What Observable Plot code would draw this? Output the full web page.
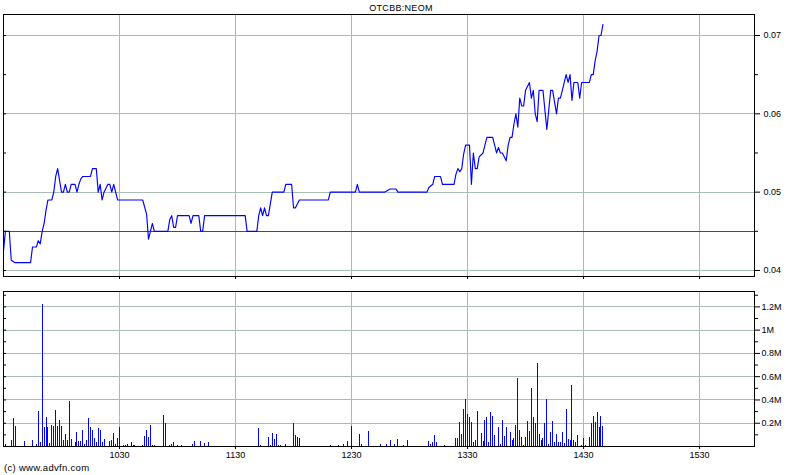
<!DOCTYPE html>
<html><head><meta charset="utf-8">
<script src="https://cdn.jsdelivr.net/npm/d3@7"></script>
<script src="https://cdn.jsdelivr.net/npm/@observablehq/plot@0.6"></script>
<style>
html,body{margin:0;padding:0;background:#fff;}
body{width:800px;height:475px;overflow:hidden;position:relative;font-family:"Liberation Sans",Arial,sans-serif;color:#000;}
#title{position:absolute;left:0;width:802px;top:3px;text-align:center;font-size:9px;letter-spacing:0.3px;}
#top{position:absolute;left:0;top:0;}
#bot{position:absolute;left:0;top:280px;}
#cap{position:absolute;left:4px;top:462px;font-size:9.5px;letter-spacing:0.3px;}
</style></head><body>
<div id="top"></div><div id="bot"></div>
<div id="title">OTCBB:NEOM</div>
<div id="cap">(c) www.advfn.com</div>
<script>
// time in minutes after 09:30
const hourTicks = [60, 120, 180, 240, 300, 360];
const hourLabels = ["1030", "1130", "1230", "1330", "1430", "1530"];
const prevClose = 0.045;
const priceTicks = [0.04, 0.05, 0.06, 0.07];
const priceMinor = [0.045, 0.055, 0.065];
const volTicks = [200, 400, 600, 800, 1000, 1200];
const volLabels = ["0.2M", "0.4M", "0.6M", "0.8M", "1M", "1.2M"];
const volMinor = [100, 300, 500, 700, 900, 1100, 1300];

const priceTimes = [
  0,1,3,4,6,14,15,17,18,19,
  20,21,22,23,25,26,27,28,30,31,
  32,33,34,35,37,38,39,40,41,45,
  46,48,49,50,51,52,54,55,56,57,
  58,59,72,74,75,77,78,85,86,87,
  88,89,90,96,97,98,101,102,103,104,
  125,126,131,132,133,134,135,136,137,139,
  145,146,149,150,151,153,168,169,182,183,
  184,197,200,203,204,219,220,222,223,226,
  227,233,234,235,236,237,238,239,241,242,
  243,244,245,246,248,249,250,253,254,255,
  256,257,258,260,261,262,263,264,265,266,
  267,268,269,270,272,273,274,275,276,277,
  279,281,283,284,286,287,288,289,290,291,
  292,293,294,295,297,298,299,303,304,305,
  306,307,308,309,310];
const priceValues = [
  .0425,.045,.045,.0413,.041,.041,.043,.043,.0438,.0434,
  .045,.046,.0477,.049,.049,.050,.052,.053,.050,.050,
  .051,.050,.050,.051,.051,.050,.051,.0517,.052,.052,
  .053,.053,.050,.051,.049,.050,.051,.051,.050,.051,
  .050,.049,.049,.0472,.044,.046,.045,.045,.0465,.047,
  .0455,.0455,.047,.047,.046,.047,.047,.045,.045,.047,
  .047,.045,.045,.047,.048,.047,.048,.047,.047,.050,
  .050,.051,.051,.048,.048,.049,.049,.050,.050,.051,
  .050,.050,.0504,.0504,.050,.050,.0506,.051,.052,.052,
  .051,.051,.0523,.053,.0526,.053,.0549,.056,.056,.051,
  .055,.053,.053,.0545,.055,.056,.057,.057,.056,.055,
  .0557,.055,.055,.054,.056,.057,.057,.0587,.060,.0583,
  .062,.061,.061,.063,.064,.062,.063,.060,.059,.063,
  .063,.058,.063,.063,.060,.062,.062,.063,.064,.065,
  .064,.065,.0617,.064,.064,.062,.064,.064,.065,.065,
  .0668,.068,.070,.070,.0714];

// volume in thousands of shares
const volTimes = [
  0,1,4,5,6,11,15,17,18,19,
  20,21,22,23,24,25,26,27,28,29,
  30,31,32,33,34,35,37,38,39,40,
  41,42,43,44,45,46,47,48,49,50,
  51,52,55,56,57,58,59,60,62,63,
  64,66,67,68,72,73,74,75,76,77,
  78,83,84,86,87,88,90,92,98,99,
  102,104,106,132,133,137,138,139,140,141,
  142,143,146,150,151,152,153,169,173,176,
  178,180,184,185,189,195,198,200,202,204,
  207,209,220,221,222,223,224,228,234,235,
  236,237,238,239,240,241,242,243,244,245,
  247,248,249,250,251,252,253,254,256,257,
  258,259,260,262,263,264,265,266,267,268,
  269,270,271,272,273,274,275,276,277,278,
  279,280,281,282,283,284,285,286,287,288,
  289,290,291,292,293,294,295,296,297,299,
  300,301,303,304,305,306,307,308,309,310];
const volValues = [
  29,15,52,238,174,43,52,15,304,35,
  1223,165,252,159,29,183,168,313,174,226,
  174,52,107,52,391,64,35,122,43,43,
  139,20,52,243,165,139,70,35,157,139,
  35,61,43,52,113,15,70,165,9,9,
  17,35,9,9,9,87,139,78,183,9,
  9,270,194,9,17,35,9,9,17,43,
  43,26,35,157,9,78,9,113,61,104,
  9,9,17,200,96,78,70,9,9,17,
  43,174,104,17,130,17,17,52,17,61,
  9,52,43,17,35,96,35,9,70,70,
  209,104,322,400,278,252,209,35,52,304,
  113,43,226,252,35,296,261,96,165,17,
  226,87,165,122,52,70,183,583,139,78,
  9,78,217,130,496,252,200,713,104,52,
  70,200,400,17,122,217,35,104,35,35,
  122,26,322,61,52,522,52,35,96,9,
  70,9,78,200,261,209,296,165,261,174];

const priceData = priceTimes.map((t, i) => ({t, p: priceValues[i]}));
const volData = volTimes.map((t, i) => ({t, v: volValues[i]}));
const hourLabel = new Map(hourTicks.map((t, i) => [t, hourLabels[i]]));
const volLabel = new Map(volTicks.map((t, i) => [t, volLabels[i]]));

const xDomain = [0, 388.4];
const font = {fontSize: "9px", fontFamily: "Liberation Sans, Arial, sans-serif", background: "white", color: "black", overflow: "visible"};
const gridXc = "#b4b4b4", gridYc = "#a8bcbc";
const crisp = {shapeRendering: "crispEdges"};

const topChart = Plot.plot({
  width: 800, height: 290, marginTop: 14, marginBottom: 14, marginLeft: 3, marginRight: 46,
  style: font,
  x: {domain: xDomain},
  y: {domain: [0.03923, 0.07268]},
  marks: [
    Plot.gridX(hourTicks, {stroke: gridXc, strokeOpacity: 1, ...crisp}),
    Plot.gridY(priceTicks, {stroke: gridYc, strokeOpacity: 1, ...crisp}),
    Plot.ruleY([prevClose], {stroke: "#ff0000", strokeWidth: 1, ...crisp}),
    Plot.line(priceData, {x: "t", y: "p", stroke: "#0000ff", strokeWidth: 1.15}),
    Plot.frame({stroke: "black", ...crisp}),
    Plot.axisX(hourTicks, {anchor: "bottom", tickSize: 3, tickPadding: 2, tickFormat: d => hourLabel.get(d), label: null}),
    Plot.axisY(priceTicks, {anchor: "right", tickSize: 5, tickPadding: 4, tickFormat: d3.format(".2f"), label: null}),
    Plot.axisY(priceMinor, {anchor: "right", tickSize: 3, fill: "none", label: null}),
    Plot.axisY(priceTicks.concat(priceMinor), {anchor: "left", tickSize: -3, fill: "none", label: null})
  ]
});
document.getElementById("top").appendChild(topChart);

const botChart = Plot.plot({
  width: 800, height: 185, marginTop: 11, marginBottom: 19, marginLeft: 3, marginRight: 46,
  style: font,
  x: {domain: xDomain},
  y: {domain: [0, 1332]},
  marks: [
    Plot.gridX(hourTicks, {stroke: gridXc, strokeOpacity: 1, ...crisp}),
    Plot.gridY(volTicks, {stroke: gridYc, strokeOpacity: 1, ...crisp}),
    Plot.ruleX(volData, {x: "t", y1: 0, y2: "v", stroke: "#0000ff", strokeWidth: 1, ...crisp}),
    Plot.frame({stroke: "black", ...crisp}),
    Plot.axisX(hourTicks, {anchor: "bottom", tickSize: 3, tickPadding: 2, tickFormat: d => hourLabel.get(d), label: null}),
    Plot.axisY(volTicks, {anchor: "right", tickSize: 5, tickPadding: 2, tickFormat: d => volLabel.get(d), label: null}),
    Plot.axisY(volMinor, {anchor: "right", tickSize: 3, fill: "none", label: null}),
    Plot.axisY(volTicks.concat(volMinor), {anchor: "left", tickSize: -3, fill: "none", label: null})
  ]
});
document.getElementById("bot").appendChild(botChart);
</script>
</body></html>
